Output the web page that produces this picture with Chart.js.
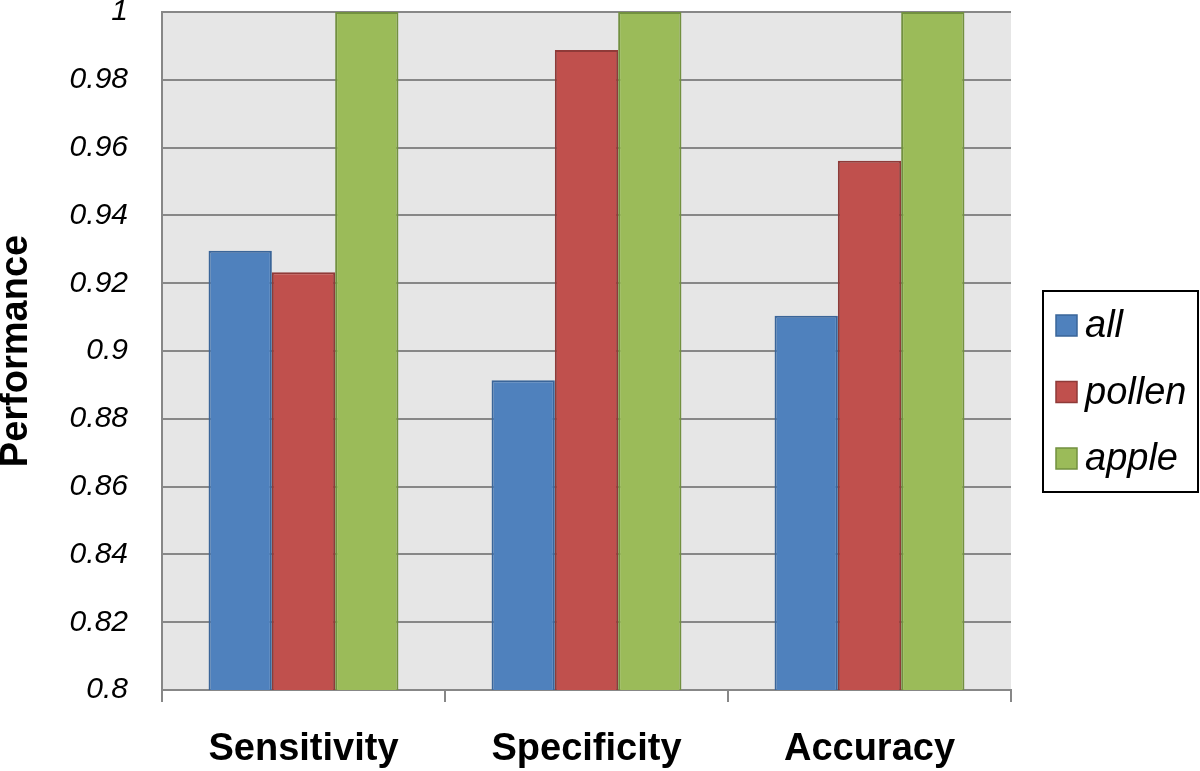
<!DOCTYPE html>
<html>
<head>
<meta charset="utf-8">
<style>
  html, body { margin: 0; padding: 0; background: #ffffff; }
  #wrap { width: 1200px; height: 771px; position: relative; }
</style>
<script src="https://cdn.jsdelivr.net/npm/chart.js@4.4.1/dist/chart.umd.min.js"></script>
</head>
<body>
<div id="wrap"><canvas id="c" width="1200" height="771"></canvas></div>
<script>
const categories = ["Sensitivity", "Specificity", "Accuracy"];
const seriesNames = ["all", "pollen", "apple"];
const allValues = [0.9296, 0.8914, 0.9104];
const pollenValues = [0.9232, 0.9888, 0.9561];
const appleValues = [1.0, 1.0, 1.0];
const fillColors = ["#4f81bd", "#c0504d", "#9bbb59"];
const borderColors = ["#3a6599", "#8f3a38", "#72903f"];
const yMin = 0.8, yMax = 1.0, yStep = 0.02;

const FONT = "'Liberation Sans', Arial, sans-serif";
const GRID = "#878787";

const plotBg = {
  id: "plotBg",
  beforeDraw(chart) {
    const a = chart.chartArea, ctx = chart.ctx;
    ctx.save();
    ctx.fillStyle = "#e6e6e6";
    ctx.fillRect(a.left, a.top, a.right - a.left, a.bottom - a.top);
    ctx.restore();
  }
};

const boxLegend = {
  id: "boxLegend",
  afterDraw(chart) {
    const ctx = chart.ctx;
    const bx = 1043, by = 291, bw = 155, bh = 201;
    ctx.save();
    ctx.fillStyle = "#ffffff";
    ctx.fillRect(bx, by, bw, bh);
    ctx.strokeStyle = "#000000";
    ctx.lineWidth = 2;
    ctx.strokeRect(bx, by, bw, bh);
    ctx.font = "italic 38px " + FONT;
    ctx.textBaseline = "middle";
    ctx.textAlign = "left";
    chart.data.datasets.forEach((ds, i) => {
      const cy = 325.5 + i * 66.5;
      ctx.fillStyle = ds.backgroundColor;
      ctx.fillRect(1056, cy - 10.5, 21, 21);
      ctx.strokeStyle = ds.borderColor;
      ctx.lineWidth = 1.5;
      ctx.strokeRect(1056, cy - 10.5, 21, 21);
      ctx.fillStyle = "#000000";
      ctx.fillText(ds.label, 1085, cy + 1);
    });
    ctx.restore();
  }
};

const valueSets = [allValues, pollenValues, appleValues];

new Chart(document.getElementById("c"), {
  type: "bar",
  data: {
    labels: categories,
    datasets: seriesNames.map((name, i) => ({
      label: name,
      data: valueSets[i],
      backgroundColor: fillColors[i],
      borderColor: borderColors[i],
      borderWidth: 2,
      borderSkipped: false,
      categoryPercentage: 0.671,
      barPercentage: 1.0
    }))
  },
  options: {
    responsive: false,
    animation: false,
    devicePixelRatio: 1,
    layout: { padding: { top: 12, right: 189, bottom: 0, left: 0 } },
    plugins: {
      legend: { display: false },
      tooltip: { enabled: false },
      title: { display: false }
    },
    scales: {
      x: {
        afterFit(scale) {
          scale.height = 81;
          scale.paddingLeft = 0; scale.paddingRight = 0;
        },
        grid: {
          offset: true,
          drawOnChartArea: false,
          drawTicks: true,
          tickLength: 12,
          color: GRID,
          lineWidth: 2
        },
        border: { display: true, color: GRID, width: 2 },
        ticks: {
          color: "#000000",
          padding: 25,
          font: { family: FONT, size: 38, weight: "bold" }
        }
      },
      y: {
        min: yMin,
        max: yMax,
        afterFit(scale) {
          scale.width = 162;
          scale.paddingTop = 0; scale.paddingBottom = 0;
        },
        grid: {
          color: GRID,
          lineWidth: 2,
          drawTicks: false
        },
        border: { display: true, color: GRID, width: 2 },
        ticks: {
          stepSize: yStep,
          color: "#000000",
          padding: 34,
          font: { family: FONT, size: 30, style: "italic" },
          callback: (v) => String(Number(v.toFixed(2)))
        },
        title: {
          display: true,
          text: "Performance",
          color: "#000000",
          padding: 0,
          font: { family: FONT, size: 38, weight: "bold", lineHeight: 0.85 }
        }
      }
    }
  },
  plugins: [plotBg, boxLegend]
});
</script>
</body>
</html>
